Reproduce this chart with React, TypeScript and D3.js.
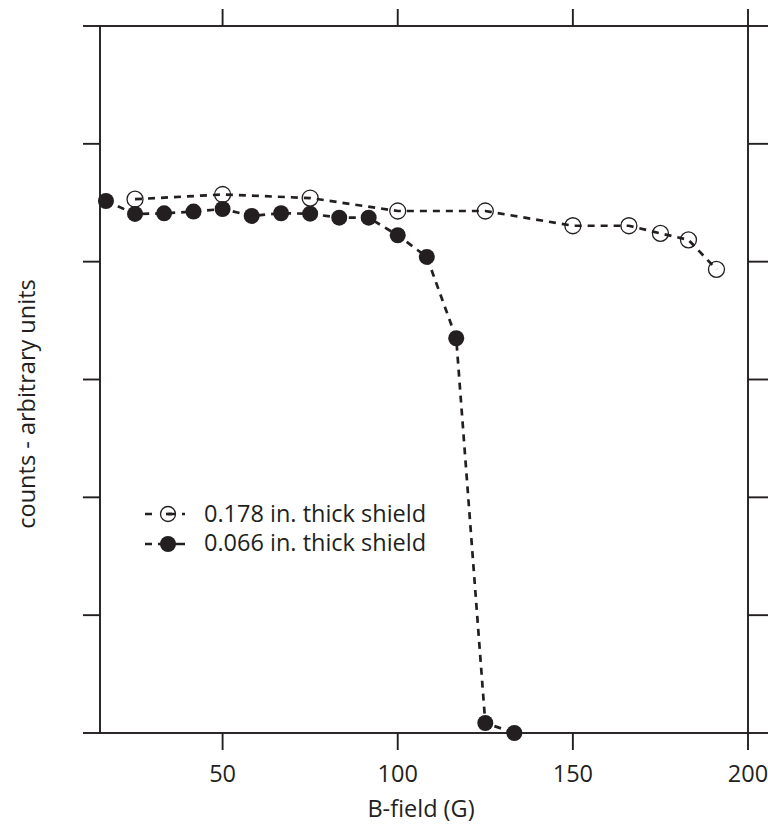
import React from "react";
import * as d3 from "d3";

const thickX = [25, 50, 75, 100, 125, 150, 166, 175, 183, 191];
const thickY = [4.53, 4.57, 4.54, 4.43, 4.43, 4.305, 4.305, 4.24, 4.185, 3.935];

const thinX = [16.7, 25, 33.3, 41.7, 50, 58.3, 66.7, 75, 83.3, 91.7, 100, 108.3, 116.7, 125, 133.3];
const thinY = [4.515, 4.405, 4.41, 4.425, 4.447, 4.388, 4.411, 4.407, 4.373, 4.373, 4.224, 4.04, 3.35, 0.085, 0.0];

const xTicks = [50, 100, 150, 200];
const yTicks = [0, 1, 2, 3, 4, 5, 6];

const seriesNames = ["0.178 in. thick shield", "0.066 in. thick shield"];

const W = 768;
const H = 830;
const left = 100, right = 748, top = 26, bottom = 733;
const INK = "#231f20";
const FONT = "'Open Sans', sans-serif";
const FS = 23.5;

export default function App() {
  const x = d3.scaleLinear().domain([15, 200]).range([left, right]);
  const y = d3.scaleLinear().domain([0, 6]).range([bottom, top]);
  const line = d3
    .line<[number, number]>()
    .x((d) => x(d[0]))
    .y((d) => y(d[1]));
  const thick: [number, number][] = thickX.map((v, i) => [v, thickY[i]]);
  const thin: [number, number][] = thinX.map((v, i) => [v, thinY[i]]);
  const tl = 17;
  const dash = "7,6";
  const lw = 2.7;

  return (
    <svg
      width={W}
      height={H}
      style={{ position: "absolute", left: 0, top: 0, background: "#fff" }}
    >
      <rect x={0} y={0} width={W} height={H} fill="#fff" />
      {/* frame */}
      <rect x={left} y={top} width={right - left} height={bottom - top} fill="none" stroke={INK} strokeWidth={1.9} />
      {/* x ticks top & bottom */}
      {xTicks.map((t) => (
        <g key={"xt" + t}>
          <line x1={x(t)} x2={x(t)} y1={top} y2={top - tl} stroke={INK} strokeWidth={1.9} />
          <line x1={x(t)} x2={x(t)} y1={bottom} y2={bottom + tl} stroke={INK} strokeWidth={1.9} />
          <text x={x(t)} y={782} textAnchor="middle" fontFamily={FONT} fontSize={FS} fill={INK}>
            {t}
          </text>
        </g>
      ))}
      {/* y ticks left & right */}
      {yTicks.map((t) => (
        <g key={"yt" + t}>
          <line x1={left} x2={left - tl} y1={y(t)} y2={y(t)} stroke={INK} strokeWidth={1.9} />
          <line x1={right} x2={right + tl + 3} y1={y(t)} y2={y(t)} stroke={INK} strokeWidth={1.9} />
        </g>
      ))}
      {/* axis titles */}
      <text x={421} y={817} textAnchor="middle" fontFamily={FONT} fontSize={FS} fill={INK}>
        B-field (G)
      </text>
      <text
        transform={`translate(35,404) rotate(-90)`}
        textAnchor="middle"
        fontFamily={FONT}
        fontSize={FS}
        fill={INK}
      >
        counts - arbitrary units
      </text>
      {/* series lines */}
      <path d={line(thick) || ""} fill="none" stroke={INK} strokeWidth={lw} strokeDasharray={dash} />
      <path d={line(thin) || ""} fill="none" stroke={INK} strokeWidth={lw} strokeDasharray={dash} />
      {thick.map((d, i) => (
        <circle key={"o" + i} cx={x(d[0])} cy={y(d[1])} r={8} fill="none" stroke={INK} strokeWidth={1.3} />
      ))}
      {thin.map((d, i) => (
        <circle key={"f" + i} cx={x(d[0])} cy={y(d[1])} r={8} fill={INK} />
      ))}
      {/* legend */}
      <g>
        <line x1={145} x2={185} y1={514} y2={514} stroke={INK} strokeWidth={lw} strokeDasharray="7,16,7" />
        <circle cx={168} cy={514} r={7.5} fill="none" stroke={INK} strokeWidth={1.3} />
        <line x1={166} x2={172} y1={514} y2={514} stroke={INK} strokeWidth={lw} />
        <text x={204} y={521.5} fontFamily={FONT} fontSize={FS} fill={INK}>
          {seriesNames[0]}
        </text>
        <line x1={145} x2={185} y1={544} y2={544} stroke={INK} strokeWidth={lw} strokeDasharray="7,6,27" />
        <circle cx={168} cy={544} r={8} fill={INK} />
        <text x={204} y={551} fontFamily={FONT} fontSize={FS} fill={INK}>
          {seriesNames[1]}
        </text>
      </g>
    </svg>
  );
}
